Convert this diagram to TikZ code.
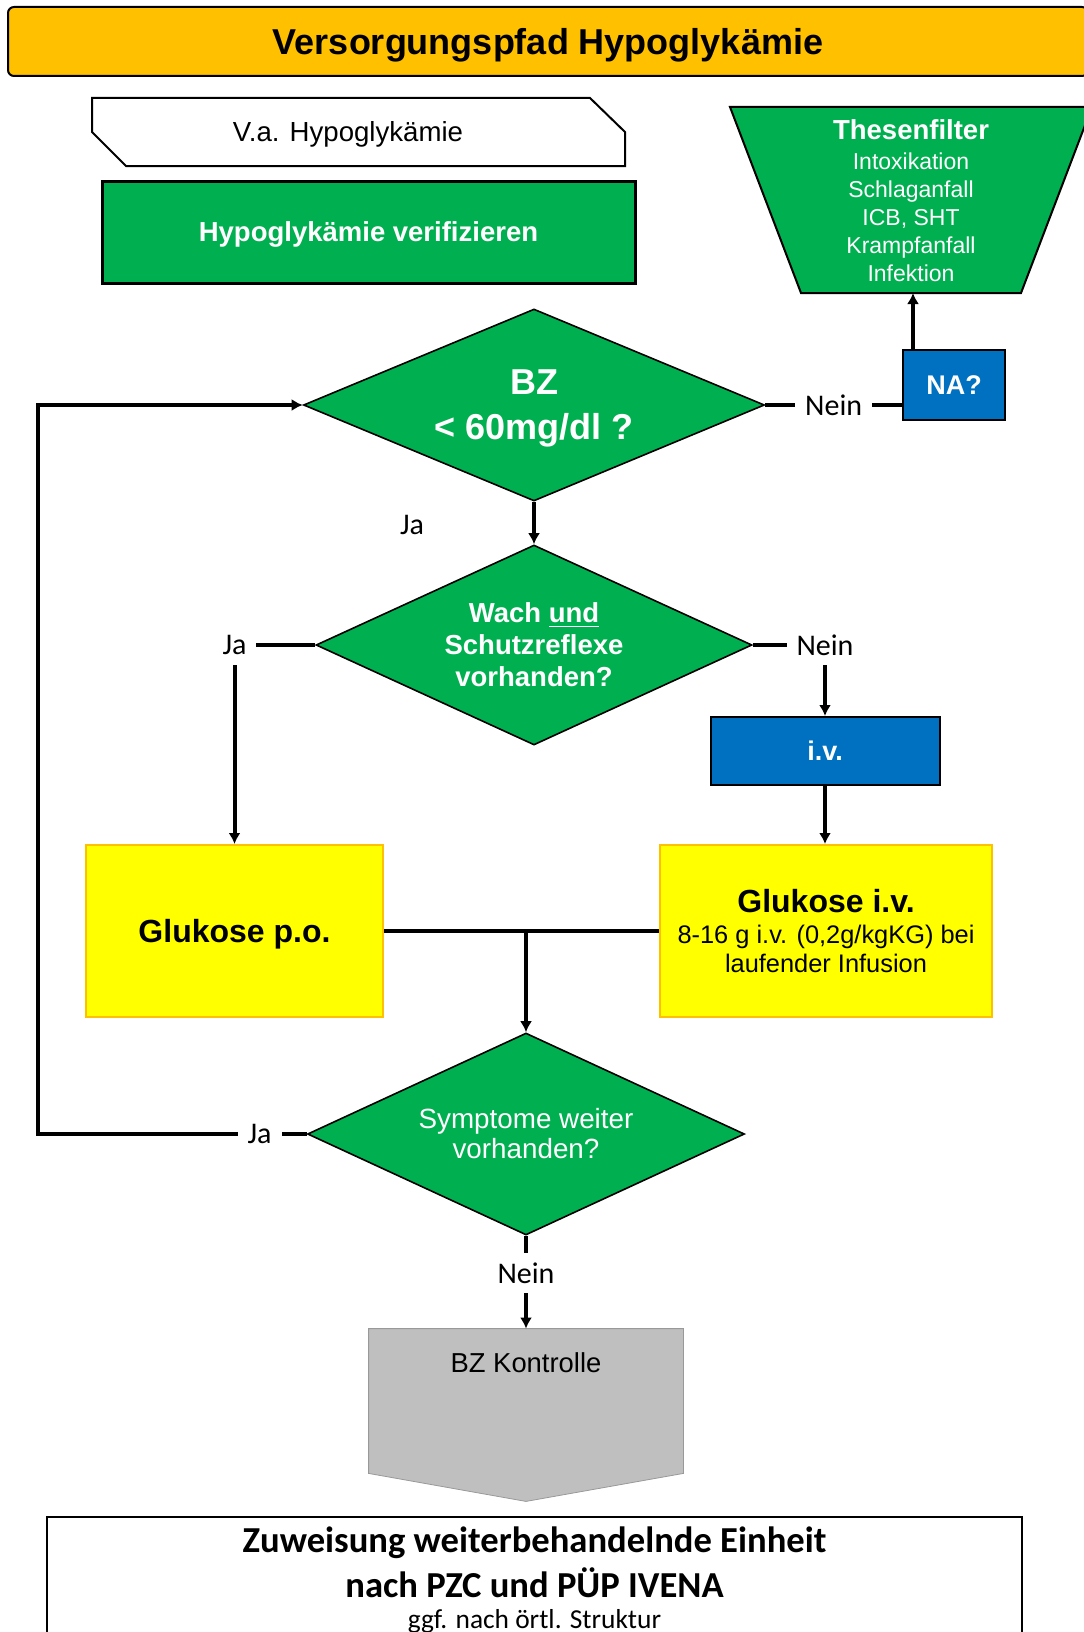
\documentclass[tikz,border=0pt]{standalone}
\usepackage{fontspec}
\setmainfont{Liberation Sans}
\newfontfamily\calibri{Carlito}
\usetikzlibrary{arrows.meta,shapes.geometric}
\definecolor{pfadgreen}{HTML}{00B050}
\definecolor{pfadblue}{HTML}{0070C0}
\definecolor{pfadyellow}{HTML}{FFFF00}
\definecolor{pfadorange}{HTML}{FFC000}
\definecolor{pfadgray}{HTML}{BFBFBF}

\begin{document}
\begin{tikzpicture}[x=0.5pt,y=-0.5pt,
	>={Latex[length=5.5pt,width=6pt]},
	greenbox/.style={draw, line width=1.2pt, fill=pfadgreen, text=white, font=\fontsize{13.75}{16}\selectfont\bfseries},
	bluebox/.style={draw, line width=1pt, fill=pfadblue, text=white, font=\fontsize{13.5}{16}\selectfont\bfseries},
	yellowbox/.style={draw=pfadorange, line width=1pt, fill=pfadyellow, align=center},
	decision/.style={diamond, draw, line width=0.8pt, fill=pfadgreen, text=white, inner sep=0pt, align=center},
	flow/.style={->, line width=2pt},
	conn/.style={line width=2pt},
	lbl/.style={fill=white, font=\calibri\fontsize{15}{18}\selectfont, inner sep=5pt}]

	\useasboundingbox (0,0) rectangle (1083,1632);

	% top
	\node[draw, line width=1pt, rounded corners=3pt, fill=pfadorange, minimum width=540pt, minimum height=34.5pt, text depth=0pt, font=\fontsize{18}{21}\selectfont\bfseries] (title) at (548,41.5) {Versorgungspfad Hypoglykämie};

	\draw[line width=1pt, fill=white] (92,98) -- (590,98) -- (625,132) -- (625,166) -- (126,166) -- (92,132) -- cycle;
	\node[text depth=0pt, font=\fontsize{13.8}{16}\selectfont] (va) at (348,132) {V.a. Hypoglykämie};

	\node[greenbox, line width=1.5pt, minimum width=266.5pt, minimum height=51pt, text depth=0pt] (verify) at (368.5,232) {Hypoglykämie verifizieren};

	\draw[line width=1pt, fill=pfadgreen] (730,107) -- (1092,107) -- (1021,293) -- (801,293) -- cycle;
	\node[text=white, font=\fontsize{13.75}{16}\selectfont\bfseries] (thesen) at (911,130) {Thesenfilter};
	\node[text=white, align=center, font=\fontsize{11.5}{14}\selectfont] (thesenlist) at (911,217) {Intoxikation\\Schlaganfall\\ICB, SHT\\Krampfanfall\\Infektion};
	\coordinate (thesenbot) at (913,293);

	% decisions
	\node[decision, aspect=2.4, minimum width=230.5pt, minimum height=96pt, text depth=0pt, font=\fontsize{18}{22.5}\selectfont\bfseries] (bz) at (534,405) {BZ\\< 60mg/dl ?};
	\node[bluebox, minimum width=51pt, minimum height=35pt] (na) at (954,385) {NA?};

	\draw[conn] (bz.east) -- (bz.east -| na.west) node[lbl, midway]{Nein};
	\draw[flow] (na.north -| thesenbot) -- (thesenbot);

	\node[decision, aspect=2.18, minimum width=218pt, minimum height=100pt, font=\fontsize{13.75}{16}\selectfont\bfseries] (wach) at (534,645) {Wach \underline{und}\\Schutzreflexe\\vorhanden?};
	\draw[flow] (bz.south) -- (wach.north) node[lbl, pos=0.55, xshift=-61pt]{Ja};

	\node[bluebox, minimum width=114.5pt, minimum height=34pt] (iv) at (825,751) {i.v.};

	% glucose
	\node[yellowbox, minimum width=148.5pt, minimum height=86pt, text depth=0pt, font=\fontsize{16}{19}\selectfont\bfseries] (po) at (234.5,931) {Glukose p.o.};
	\node[yellowbox, minimum width=166pt, minimum height=86pt, font=\fontsize{12.7}{14.5}\selectfont] (giv) at (826,931) {{\fontsize{16}{19}\selectfont\bfseries Glukose i.v.}\\[1pt]8-16 g i.v. (0,2g/kgKG) bei\\laufender Infusion};

	\draw[flow] (wach.west) -| (po.north) node[lbl, pos=0.5]{Ja};
	\draw[flow] (wach.east) -| (iv.north) node[lbl, pos=0.5]{Nein};
	\draw[flow] (iv.south) -- (iv.south |- giv.north);

	\node[decision, aspect=2.16, minimum width=218.5pt, minimum height=101pt, font=\fontsize{13.9}{15}\selectfont] (sym) at (526,1134) {Symptome weiter\\vorhanden?};

	\draw[conn] (po.east) -- (giv.west);
	\draw[flow] (po.east -| sym.north) -- (sym.north);
	\draw[flow] (sym.west) -- node[lbl, pos=0.175]{Ja} ++(-269,0) |- (bz.west);

	% bottom
	\node[minimum width=157pt, minimum height=72pt, inner sep=0pt] (bzk) at (526,1401) {};
	\draw[draw=gray!80, fill=pfadgray] (bzk.north west) -- (bzk.north east) -- (bzk.south east) -- ([yshift=-14pt]bzk.south) -- (bzk.south west) -- cycle;
	\node[font=\fontsize{13.7}{16}\selectfont] (bzktext) at ([yshift=-17pt]bzk.north) {BZ Kontrolle};
	\draw[flow] (sym.south) -- node[lbl, pos=0.4]{Nein} (sym.south |- bzk.north);

	\node[draw, line width=1.2pt, anchor=north, minimum width=487.5pt, inner ysep=5pt, align=center, font=\calibri\fontsize{18.3}{22.5}\selectfont\bfseries] (zuweisung) at (534.5,1516) {Zuweisung weiterbehandelnde Einheit\\nach PZC und PÜP IVENA\\[-7pt]{\mdseries\fontsize{13.7}{16}\selectfont ggf. nach örtl. Struktur}};
\end{tikzpicture}
\end{document}
